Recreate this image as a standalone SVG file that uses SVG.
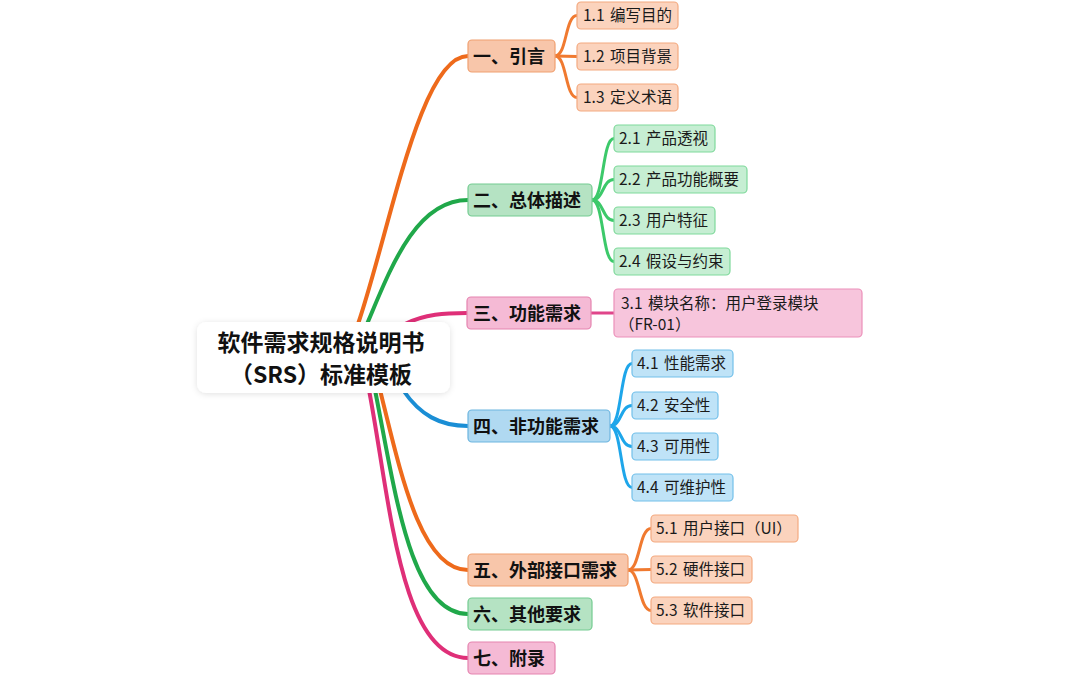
<svg xmlns="http://www.w3.org/2000/svg" width="1080" height="676" viewBox="0 0 1080 676">
<defs>
<filter id="sh" x="-10%" y="-20%" width="120%" height="140%">
<feDropShadow dx="0" dy="1" stdDeviation="3" flood-color="#000" flood-opacity="0.12"/>
</filter>
</defs>
<style>
text{font-family:"Noto Sans CJK SC","Noto Sans",sans-serif;}
.l1{font-size:18px;font-weight:bold;fill:#111;}
.l2{font-size:15.5px;fill:#1a1a1a;word-spacing:2px;}
.c{font-size:23px;font-weight:bold;fill:#111;}
.m{fill:none;stroke-width:4;stroke-linecap:round;}
.s{fill:none;stroke-width:3;stroke-linecap:round;}
.or1{fill:#f8c6aa;stroke:#f0a070;stroke-width:1.2;}
.or2{fill:#fbd3bd;stroke:#f4aa80;stroke-width:1.2;}
.gr1{fill:#b5e3c3;stroke:#74cc91;stroke-width:1.2;}
.gr2{fill:#c6eed3;stroke:#7fd99b;stroke-width:1.2;}
.pk1{fill:#f5bad5;stroke:#e584b0;stroke-width:1.2;}
.pk2{fill:#f7c5dc;stroke:#ec90ba;stroke-width:1.2;}
.bl1{fill:#b0d9f1;stroke:#6cb5df;stroke-width:1.2;}
.bl2{fill:#bfe3f7;stroke:#72c0ea;stroke-width:1.2;}
</style>
<rect width="1080" height="676" fill="#fff"/>
<g id="connectors">
<path class="m" stroke="#ee6a1b" d="M358,324 C390,230 420,56 468,56"/>
<path class="m" stroke="#20a84a" d="M367,324 C390,270 415,200 468,200"/>
<path class="m" stroke="#df2f78" d="M405,324 C425,314 445,313 467,313"/>
<path class="m" stroke="#1a8ed5" d="M403,390 C420,415 440,426 468,426"/>
<path class="m" stroke="#ee6a1b" d="M380,390 C400,470 420,570 468,570"/>
<path class="m" stroke="#20a84a" d="M375,390 C395,490 410,614 468,614"/>
<path class="m" stroke="#df2f78" d="M369,390 C390,500 400,658 468,658"/>
<path class="s" stroke="#f07a30" d="M555,56 C567,56 565,15.5 577,15.5"/>
<path class="s" stroke="#f07a30" d="M555,56 L577,56.5"/>
<path class="s" stroke="#f07a30" d="M555,56 C567,56 565,97.5 577,97.5"/>
<path class="s" stroke="#3cc96a" d="M592,200 C604,200 602,138.5 614,138.5"/>
<path class="s" stroke="#3cc96a" d="M592,200 C604,200 602,179.5 614,179.5"/>
<path class="s" stroke="#3cc96a" d="M592,200 C604,200 602,220.5 614,220.5"/>
<path class="s" stroke="#3cc96a" d="M592,200 C604,200 602,261.5 614,261.5"/>
<path class="s" stroke="#e0458a" d="M591,313 L614,313"/>
<path class="s" stroke="#1ea6ea" d="M610,426 C622,426 620,363.5 632,363.5"/>
<path class="s" stroke="#1ea6ea" d="M610,426 C622,426 620,405.5 632,405.5"/>
<path class="s" stroke="#1ea6ea" d="M610,426 C622,426 620,446.5 632,446.5"/>
<path class="s" stroke="#1ea6ea" d="M610,426 C622,426 620,487.5 632,487.5"/>
<path class="s" stroke="#f07a30" d="M628,570 C640,570 639,528.5 651,528.5"/>
<path class="s" stroke="#f07a30" d="M628,570 L651,569.5"/>
<path class="s" stroke="#f07a30" d="M628,570 C640,570 639,610.5 651,610.5"/>
</g>
<g id="root">
<rect x="197" y="322" width="253" height="71" rx="9" fill="#fff" filter="url(#sh)"/>
<text class="c" x="321" y="351" text-anchor="middle">软件需求规格说明书</text>
<text class="c" x="321" y="383" text-anchor="middle">（SRS）标准模板</text>
</g>
<g id="n1"><rect class="or1" x="468" y="40" width="87" height="32" rx="4"/><text class="l1" x="473" y="63">一、引言</text></g>
<g id="n2"><rect class="gr1" x="468" y="184" width="124" height="32" rx="4"/><text class="l1" x="473" y="207">二、总体描述</text></g>
<g id="n3"><rect class="pk1" x="467" y="297" width="124" height="32" rx="4"/><text class="l1" x="473" y="320">三、功能需求</text></g>
<g id="n4"><rect class="bl1" x="468" y="410" width="142" height="32" rx="4"/><text class="l1" x="473" y="433">四、非功能需求</text></g>
<g id="n5"><rect class="or1" x="468" y="554" width="160" height="32" rx="4"/><text class="l1" x="473" y="577">五、外部接口需求</text></g>
<g id="n6"><rect class="gr1" x="468" y="598" width="124" height="32" rx="4"/><text class="l1" x="473" y="621">六、其他要求</text></g>
<g id="n7"><rect class="pk1" x="468" y="642" width="87" height="32" rx="4"/><text class="l1" x="473" y="665">七、附录</text></g>
<g id="n1-1"><rect class="or2" x="577" y="2" width="101" height="27" rx="4"/><text class="l2" x="583" y="21">1.1 编写目的</text></g>
<g id="n1-2"><rect class="or2" x="577" y="43" width="101" height="27" rx="4"/><text class="l2" x="583" y="62">1.2 项目背景</text></g>
<g id="n1-3"><rect class="or2" x="577" y="84" width="101" height="27" rx="4"/><text class="l2" x="583" y="103">1.3 定义术语</text></g>
<g id="n2-1"><rect class="gr2" x="614" y="125" width="101" height="27" rx="4"/><text class="l2" x="619" y="144">2.1 产品透视</text></g>
<g id="n2-2"><rect class="gr2" x="614" y="166" width="133" height="27" rx="4"/><text class="l2" x="619" y="185">2.2 产品功能概要</text></g>
<g id="n2-3"><rect class="gr2" x="614" y="207" width="101" height="27" rx="4"/><text class="l2" x="619" y="226">2.3 用户特征</text></g>
<g id="n2-4"><rect class="gr2" x="614" y="248" width="116" height="27" rx="4"/><text class="l2" x="619" y="267">2.4 假设与约束</text></g>
<g id="n3-1"><rect class="pk2" x="614" y="289" width="248" height="48" rx="4"/><text class="l2" x="621" y="309">3.1 模块名称：用户登录模块</text><text class="l2" x="619" y="330">（FR-01）</text></g>
<g id="n4-1"><rect class="bl2" x="632" y="350" width="101" height="27" rx="4"/><text class="l2" x="637" y="369">4.1 性能需求</text></g>
<g id="n4-2"><rect class="bl2" x="632" y="392" width="86" height="27" rx="4"/><text class="l2" x="637" y="411">4.2 安全性</text></g>
<g id="n4-3"><rect class="bl2" x="632" y="433" width="86" height="27" rx="4"/><text class="l2" x="637" y="452">4.3 可用性</text></g>
<g id="n4-4"><rect class="bl2" x="632" y="474" width="101" height="27" rx="4"/><text class="l2" x="637" y="493">4.4 可维护性</text></g>
<g id="n5-1"><rect class="or2" x="651" y="515" width="147" height="27" rx="4"/><text class="l2" x="656" y="534">5.1 用户接口（UI）</text></g>
<g id="n5-2"><rect class="or2" x="651" y="556" width="101" height="27" rx="4"/><text class="l2" x="656" y="575">5.2 硬件接口</text></g>
<g id="n5-3"><rect class="or2" x="651" y="597" width="101" height="27" rx="4"/><text class="l2" x="656" y="616">5.3 软件接口</text></g>
</svg>
